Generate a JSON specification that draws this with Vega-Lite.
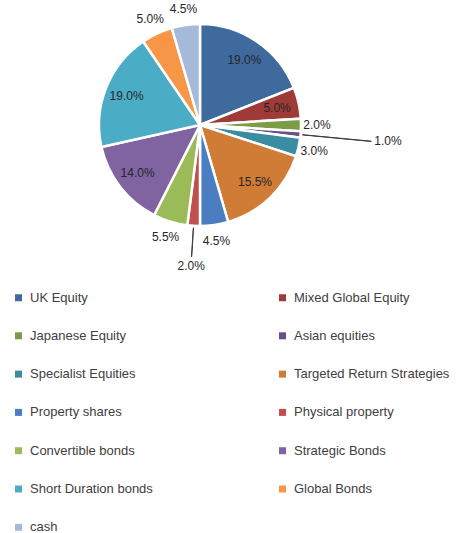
{
  "$schema": "https://vega.github.io/schema/vega-lite/v6.json",
  "width": 400,
  "height": 250,
  "padding": 0,
  "autosize": {"type": "pad"},
  "background": "white",
  "config": {"view": {"stroke": null}, "font": "Liberation Sans"},
  "data": {
    "values": [
      {"rank": 1, "name": "UK Equity", "value": 19.0},
      {"rank": 2, "name": "Mixed Global Equity", "value": 5.0},
      {"rank": 3, "name": "Japanese Equity", "value": 2.0},
      {"rank": 4, "name": "Asian equities", "value": 1.0},
      {"rank": 5, "name": "Specialist Equities", "value": 3.0},
      {"rank": 6, "name": "Targeted Return Strategies", "value": 15.5},
      {"rank": 7, "name": "Property shares", "value": 4.5},
      {"rank": 8, "name": "Physical property", "value": 2.0},
      {"rank": 9, "name": "Convertible bonds", "value": 5.5},
      {"rank": 10, "name": "Strategic Bonds", "value": 14.0},
      {"rank": 11, "name": "Short Duration bonds", "value": 19.0},
      {"rank": 12, "name": "Global Bonds", "value": 5.0},
      {"rank": 13, "name": "cash", "value": 4.5}
    ]
  },
  "transform": [
    {"stack": "value", "groupby": [], "sort": [{"field": "rank", "order": "ascending"}], "as": ["v0", "v1"]},
    {"calculate": "(datum.v0 + datum.v1) / 2", "as": "mid"},
    {"calculate": "datum.mid + 0.03", "as": "midb"},
    {"calculate": "datum.value / 100", "as": "frac"}
  ],
  "layer": [
    {
      "mark": {"type": "arc", "outerRadius": 101, "stroke": "white", "strokeWidth": 2.5},
      "encoding": {
        "theta": {"field": "v0", "type": "quantitative", "scale": {"domain": [0, 100]}},
        "theta2": {"field": "v1"},
        "color": {
          "field": "name",
          "type": "nominal",
          "scale": {
            "domain": ["UK Equity", "Mixed Global Equity", "Japanese Equity", "Asian equities", "Specialist Equities", "Targeted Return Strategies", "Property shares", "Physical property", "Convertible bonds", "Strategic Bonds", "Short Duration bonds", "Global Bonds", "cash"],
            "range": ["#3F6A9E", "#9E3B38", "#7E9B45", "#684F87", "#3A8DA1", "#D07B36", "#4A7EC0", "#C0504D", "#9BBB59", "#8064A2", "#4BACC6", "#F79646", "#A5B9D9"]
          },
          "legend": {
            "title": null,
            "orient": "none",
            "direction": "horizontal",
            "legendX": 12,
            "legendY": 291,
            "columns": 2,
            "columnPadding": 123,
            "rowPadding": 24.3,
            "symbolType": "square",
            "symbolSize": 49,
            "symbolStrokeWidth": 0,
            "labelFontSize": 13,
            "labelColor": "#404040",
            "labelLimit": 300,
            "labelOffset": 5
          }
        }
      }
    },
    {
      "transform": [{"filter": {"field": "name", "oneOf": ["UK Equity", "Mixed Global Equity", "Targeted Return Strategies", "Strategic Bonds", "Short Duration bonds"]}}],
      "mark": {"type": "text", "radius": 79, "fontSize": 12, "color": "#262626"},
      "encoding": {
        "theta": {"field": "mid", "type": "quantitative"},
        "text": {"field": "frac", "type": "quantitative", "format": ".1%"}
      }
    },
    {
      "transform": [{"filter": {"field": "name", "oneOf": ["Japanese Equity", "Specialist Equities", "Property shares", "Convertible bonds", "Global Bonds", "cash"]}}],
      "mark": {"type": "text", "radius": 117, "fontSize": 12, "color": "#262626"},
      "encoding": {
        "theta": {"field": "mid", "type": "quantitative"},
        "text": {"field": "frac", "type": "quantitative", "format": ".1%"}
      }
    },
    {
      "transform": [{"filter": {"field": "name", "oneOf": ["Physical property"]}}],
      "mark": {"type": "arc", "radius": 132, "radius2": 103, "stroke": "#404040", "strokeWidth": 1, "fill": "#404040"},
      "encoding": {
        "theta": {"field": "mid", "type": "quantitative"},
        "theta2": {"field": "midb"}
      }
    },
    {
      "transform": [{"filter": {"field": "name", "oneOf": ["Asian equities"]}}],
      "mark": {"type": "arc", "radius": 172, "radius2": 103, "stroke": "#404040", "strokeWidth": 1, "fill": "#404040"},
      "encoding": {
        "theta": {"field": "mid", "type": "quantitative"},
        "theta2": {"field": "midb"}
      }
    },
    {
      "transform": [{"filter": {"field": "name", "oneOf": ["Physical property"]}}],
      "mark": {"type": "text", "radius": 141, "fontSize": 12, "color": "#262626"},
      "encoding": {
        "theta": {"field": "mid", "type": "quantitative"},
        "text": {"field": "frac", "type": "quantitative", "format": ".1%"}
      }
    },
    {
      "transform": [{"filter": {"field": "name", "oneOf": ["Asian equities"]}}],
      "mark": {"type": "text", "radius": 172, "fontSize": 12, "color": "#262626", "align": "left", "dx": 3},
      "encoding": {
        "theta": {"field": "mid", "type": "quantitative"},
        "text": {"field": "frac", "type": "quantitative", "format": ".1%"}
      }
    }
  ]
}
